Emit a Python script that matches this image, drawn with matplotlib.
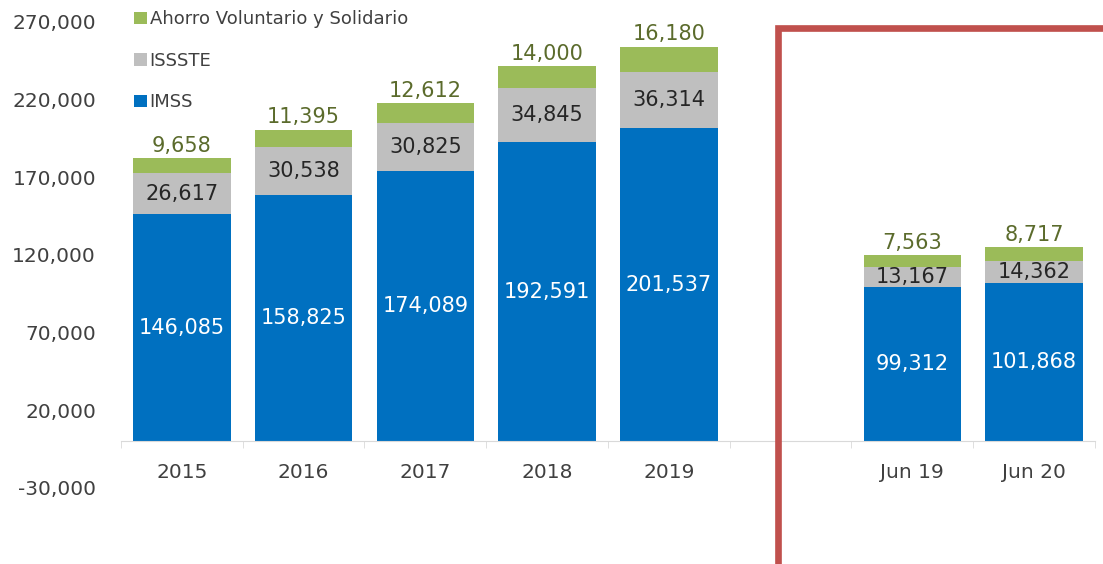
import numpy as np
import matplotlib
matplotlib.use('Agg')
import matplotlib.pyplot as plt
from matplotlib.patches import Rectangle

# datos
categorias = ['2015', '2016', '2017', '2018', '2019', '', 'Jun 19', 'Jun 20']
imss = [146085, 158825, 174089, 192591, 201537, np.nan, 99312, 101868]
issste = [26617, 30538, 30825, 34845, 36314, np.nan, 13167, 14362]
ahorro = [9658, 11395, 12612, 14000, 16180, np.nan, 7563, 8717]

plt.rcParams['font.family'] = ['DejaVu Sans']

c_imss = '#0070C0'
c_issste = '#BFBFBF'
c_ahorro = '#9BBB59'
c_txt = '#404040'

fig = plt.figure(figsize=(11.03, 5.64), dpi=100)
ax = fig.add_axes([0.1097, 0.135, 0.883, 0.826])

x = np.arange(len(categorias))
imss = np.array(imss, dtype=float)
issste = np.array(issste, dtype=float)
ahorro = np.array(ahorro, dtype=float)
w = 0.8

b1 = ax.bar(x, imss, w, color=c_imss, label='IMSS')
b2 = ax.bar(x, issste, w, bottom=imss, color=c_issste, label='ISSSTE')
b3 = ax.bar(x, ahorro, w, bottom=imss + issste, color=c_ahorro,
            label='Ahorro Voluntario y Solidario')

for i in range(len(x)):
    if np.isnan(imss[i]):
        continue
    ax.text(x[i], imss[i] / 2, f'{imss[i]:,.0f}', ha='center', va='center',
            color='white', fontsize=15)
    ax.text(x[i], imss[i] + issste[i] / 2, f'{issste[i]:,.0f}', ha='center',
            va='center', color='#262626', fontsize=15)
    ax.text(x[i], imss[i] + issste[i] + ahorro[i] + 1500, f'{ahorro[i]:,.0f}',
            ha='center', va='bottom', color='#5b6b2c', fontsize=15)

ax.set_ylim(-30000, 270000)
ax.set_xlim(-0.5, len(x) - 0.5)
ax.set_yticks(np.arange(-30000, 270001, 50000))
ax.set_yticklabels([f'{v:,.0f}' for v in np.arange(-30000, 270001, 50000)])
ax.set_xticks(x)
ax.set_xticklabels(categorias)
ax.set_xticks(np.arange(-0.5, len(x), 1), minor=True)

for s in ['top', 'right', 'left']:
    ax.spines[s].set_visible(False)
ax.spines['bottom'].set_position(('data', 0))
ax.spines['bottom'].set_color('#D9D9D9')
ax.tick_params(axis='y', length=0, pad=18, labelsize=14.5, labelcolor=c_txt)
ax.tick_params(axis='x', which='major', length=0, pad=16, labelsize=14.5,
               labelcolor=c_txt)
ax.tick_params(axis='x', which='minor', length=5, color='#D9D9D9', direction='out')

h, l = ax.get_legend_handles_labels()
ax.legend(h[::-1], l[::-1], loc='upper left', bbox_to_anchor=(-0.003, 1.06),
          frameon=False, fontsize=13, labelcolor=c_txt, handlelength=0.7,
          handleheight=0.7, handletextpad=0.15, labelspacing=1.3)

# recuadro rojo
fig.patches.append(Rectangle((0.7055, -0.1), 0.2975, 1.05, transform=fig.transFigure,
                             fill=False, edgecolor='#C0504D', linewidth=4.8))

plt.savefig('out.png', dpi=100)
